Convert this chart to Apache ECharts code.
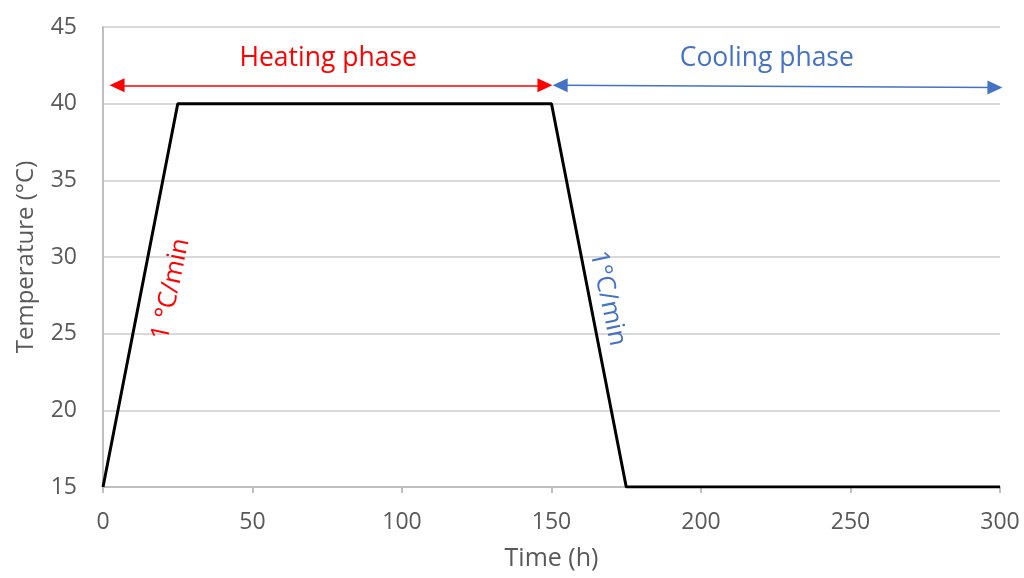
<!DOCTYPE html>
<html>
<head>
<meta charset="utf-8">
<script src="https://cdn.jsdelivr.net/npm/echarts@6/dist/echarts.min.js"></script>
<style>html,body{margin:0;padding:0;background:#fff;}#c{width:1024px;height:578px;}</style>
</head>
<body>
<div id="c"></div>
<script>
const times = [0, 25, 150, 175, 300];
const temps = [15, 40, 40, 15, 15];
const xTicks = [0, 50, 100, 150, 200, 250, 300];
const yTicks = [15, 20, 25, 30, 35, 40, 45];
const heatArrow = [[4.7, 41.2], [147.8, 41.2]];
const coolArrow = [[152.9, 41.2], [298.3, 41.05]];
const phaseLabels = ['Heating phase', 'Cooling phase'];
const phaseLabelPos = [[75.3, 42.95], [222, 42.95]];
const rateLabels = ['1 °C/min', '1°C/min'];
const rateLabelPos = [[22.7, 27.9], [168.8, 27.3]];

const FONT = '"Open Sans", sans-serif';
const RED = '#ff0000', BLUE = '#4472c4', GRAY = '#595959';

const chart = echarts.init(document.getElementById('c'), null, {renderer: 'canvas'});
chart.setOption({
  animation: false,
  backgroundColor: '#fff',
  grid: {left: 103, right: 24, top: 27, bottom: 91, containLabel: false},
  xAxis: {
    type: 'value', min: xTicks[0], max: xTicks[xTicks.length - 1], interval: 50,
    name: 'Time (h)', nameLocation: 'middle', nameGap: 59,
    nameTextStyle: {color: GRAY, fontSize: 25, fontFamily: FONT},
    axisLine: {show: true, lineStyle: {color: '#bfbfbf', width: 2}},
    axisTick: {show: true, length: 6, lineStyle: {color: '#bfbfbf', width: 2}},
    axisLabel: {color: GRAY, fontSize: 23, fontFamily: FONT, margin: 24},
    splitLine: {show: false}
  },
  yAxis: {
    type: 'value', min: yTicks[0], max: yTicks[yTicks.length - 1], interval: 5,
    name: 'Temperature (°C)', nameLocation: 'middle', nameGap: 65,
    nameTextStyle: {color: GRAY, fontSize: 24, fontFamily: FONT},
    axisLine: {show: true, lineStyle: {color: '#bfbfbf', width: 2}},
    axisTick: {show: false},
    axisLabel: {color: GRAY, fontSize: 23, fontFamily: FONT, margin: 26},
    splitLine: {show: true, lineStyle: {color: '#d9d9d9', width: 2}}
  },
  series: [
    {
      type: 'line',
      data: times.map((t, i) => [t, temps[i]]),
      symbol: 'none',
      lineStyle: {color: '#000', width: 3},
      markLine: {
        silent: true,
        symbol: ['triangle', 'triangle'],
        symbolSize: [14, 15],
        label: {show: false},
        data: [
          [{coord: heatArrow[0], lineStyle: {color: RED, width: 1.5, type: 'solid'}, itemStyle: {color: RED}},
           {coord: heatArrow[1]}],
          [{coord: coolArrow[0], lineStyle: {color: BLUE, width: 1.5, type: 'solid'}, itemStyle: {color: BLUE}},
           {coord: coolArrow[1]}]
        ]
      }
    },
    {
      type: 'scatter',
      silent: true,
      symbolSize: 0,
      itemStyle: {opacity: 1},
      data: [
        {value: phaseLabelPos[0], label: {show: true, formatter: phaseLabels[0], color: RED, fontSize: 26.5}},
        {value: phaseLabelPos[1], label: {show: true, formatter: phaseLabels[1], color: BLUE, fontSize: 26.5}},
        {value: rateLabelPos[0], label: {show: true, formatter: rateLabels[0], color: RED, rotate: 78}},
        {value: rateLabelPos[1], label: {show: true, formatter: rateLabels[1], color: BLUE, rotate: -78}}
      ],
      label: {show: true, position: 'inside', fontSize: 25.5, fontFamily: FONT, align: 'center', verticalAlign: 'middle', opacity: 1}
    }
  ]
});
</script>
</body>
</html>
